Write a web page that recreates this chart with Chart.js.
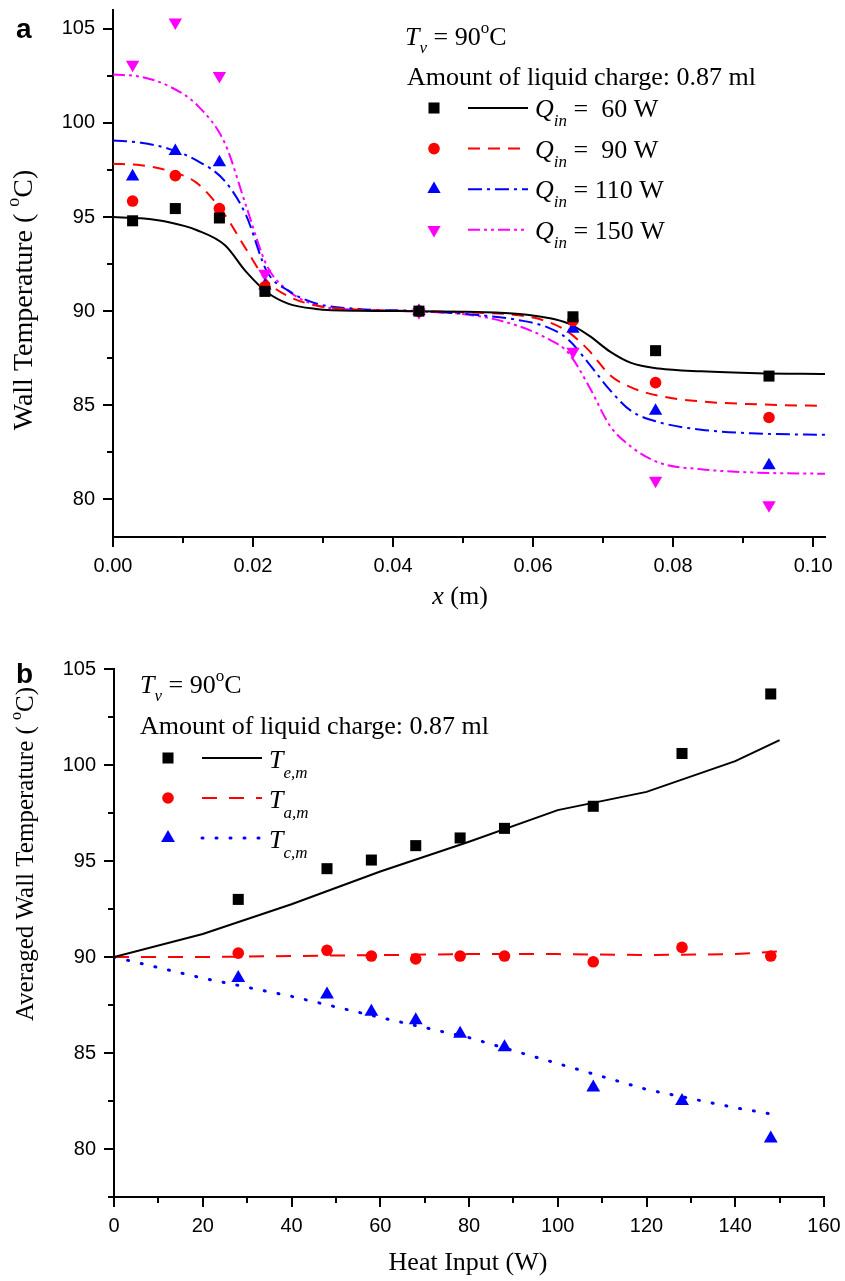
<!DOCTYPE html>
<html>
<head>
<meta charset="utf-8">
<script src="https://cdn.jsdelivr.net/npm/chart.js@4.4.0/dist/chart.umd.min.js"></script>
<style>
  body { margin: 0; background: #fff; }
  canvas { position: absolute; left: 0; }
  #chartA { top: 0; }
  #chartB { top: 640px; }
</style>
</head>
<body>
<canvas id="chartA" width="845" height="630"></canvas>
<canvas id="chartB" width="845" height="641"></canvas>
<script>
// ---- panel a: wall temperature along the pipe ----
const posX = [0.0028, 0.0089, 0.0152, 0.0217, 0.0437, 0.0657, 0.0775, 0.0937];
const q60 = [94.8, 95.45, 94.95, 91.05, 90.0, 89.7, 87.9, 86.55];
const q90 = [95.85, 97.2, 95.45, 91.3, 90.0, 89.5, 86.2, 84.35];
const q110 = [97.15, 98.5, 97.9, 91.35, 90.0, 89.05, 84.7, 81.8];
const q150 = [103.1, 105.35, 102.5, 92.0, 89.95, 87.85, 81.0, 79.7];

// model curves
const fitX = [0, 0.004, 0.008, 0.012, 0.016, 0.019, 0.022, 0.025, 0.029, 0.035, 0.044,
  0.052, 0.058, 0.062, 0.065, 0.068, 0.071, 0.074, 0.078, 0.084, 0.092, 0.1017];
const fit60 = [95.0, 94.93, 94.72, 94.3, 93.5, 92.1, 91.0, 90.4, 90.12, 90.02, 90.0,
  89.95, 89.85, 89.65, 89.35, 88.7, 87.85, 87.25, 86.95, 86.8, 86.7, 86.66];
const fit90 = [97.83, 97.75, 97.45, 96.8, 95.1, 93.3, 91.6, 90.8, 90.3, 90.08, 90.0,
  89.92, 89.78, 89.45, 88.9, 87.9, 86.6, 85.95, 85.5, 85.2, 85.05, 84.96];
const fit110 = [99.07, 98.95, 98.62, 98.0, 96.9, 95.1, 92.1, 91.1, 90.41, 90.12, 90.0,
  89.8, 89.52, 89.15, 88.5, 87.2, 85.8, 84.7, 84.1, 83.7, 83.5, 83.43];
const fit150 = [102.57, 102.45, 101.95, 100.95, 98.9, 95.6, 92.4, 91.1, 90.32, 90.08, 89.98,
  89.75, 89.2, 88.55, 87.8, 86.0, 83.9, 82.8, 81.95, 81.6, 81.42, 81.36];
const qLabels = ['=  60 W', '=  90 W', '= 110 W', '= 150 W'];

// ---- panel b: averaged wall temperature vs heat input ----
const heatX = [28, 48, 58, 68, 78, 88, 108, 128, 148];
const teM = [93.0, 94.6, 95.05, 95.8, 96.2, 96.7, 97.85, 100.6, 103.7];
const taM = [90.2, 90.35, 90.05, 89.9, 90.05, 90.05, 89.75, 90.5, 90.05];
const tcM = [88.9, 88.05, 87.15, 86.7, 86.0, 85.3, 83.2, 82.5, 80.55];
const lineX = [0, 20, 40, 60, 80, 100, 120, 140, 150];
const teLine = [90.0, 91.2, 92.75, 94.45, 96.0, 97.65, 98.6, 100.2, 101.3];
const taLine = [90.0, 90.0, 90.05, 90.1, 90.15, 90.15, 90.1, 90.15, 90.3];
const tcLine = [90.0, 88.9, 87.95, 86.85, 85.8, 84.45, 83.1, 82.15, 81.75];
const tSubs = ['e,m', 'a,m', 'c,m'];

const SERIF = '"Liberation Serif", "Times New Roman", serif';
const SANS = '"Liberation Sans", Arial, sans-serif';

function pairs(xs, ys) {
  return xs.map((x, i) => ({ x: x, y: ys[i] }));
}

// draw a run of text pieces (for sub/superscripts)
function richWidth(ctx, parts) {
  let w = 0;
  parts.forEach((p) => {
    ctx.font = p.font;
    w += ctx.measureText(p.text).width;
  });
  return w;
}
function drawRich(ctx, parts, x, y) {
  parts.forEach((p) => {
    ctx.font = p.font;
    ctx.fillText(p.text, x, y + (p.dy || 0));
    x += ctx.measureText(p.text).width;
  });
}

function drawMarker(ctx, ds, x, y) {
  Chart.helpers.drawPoint(ctx, {
    pointStyle: ds.pointStyle,
    radius: ds.pointRadius,
    rotation: ds.rotation || 0,
    borderWidth: 0,
  }, x, y);
}

// ticks (major + minor), titles, notes and legend; cfg kept out of chart options
function makeDecor(o) {
  return {
    id: 'decor',
    afterDraw(chart) {
      const ctx = chart.ctx;
      const xs = chart.scales.x;
      const ys = chart.scales.y;
      ctx.save();
      ctx.strokeStyle = '#000';
      ctx.lineWidth = 2;
      ctx.beginPath();
      xs.ticks.forEach((t) => {
        const px = Math.round(xs.getPixelForValue(t.value));
        const len = o.xMajor(t.value) ? 10 : 6;
        ctx.moveTo(px, xs.top);
        ctx.lineTo(px, xs.top + len);
      });
      ys.ticks.forEach((t) => {
        const py = Math.round(ys.getPixelForValue(t.value));
        const len = o.yMajor(t.value) ? 10 : 6;
        ctx.moveTo(ys.right, py);
        ctx.lineTo(ys.right - len, py);
      });
      ctx.stroke();

      ctx.fillStyle = '#000';
      ctx.textBaseline = 'alphabetic';
      ctx.textAlign = 'left';
      // panel letter
      ctx.font = 'bold 28px ' + SANS;
      ctx.fillText(o.letter, o.letterPos[0], o.letterPos[1]);

      // x title
      const xw = richWidth(ctx, o.xTitle);
      drawRich(ctx, o.xTitle, o.xTitlePos[0] - xw / 2, o.xTitlePos[1]);
      // y title, rotated
      ctx.save();
      ctx.translate(o.yTitlePos[0], o.yTitlePos[1]);
      ctx.rotate(-Math.PI / 2);
      const yw = richWidth(ctx, o.yTitle);
      drawRich(ctx, o.yTitle, -yw / 2, 0);
      ctx.restore();

      // notes
      drawRich(ctx, o.note1, o.notePos[0], o.notePos[1]);
      ctx.font = '26px ' + SERIF;
      ctx.fillText('Amount of liquid charge: 0.87 ml', o.notePos[2], o.notePos[3]);

      // legend: marker, line sample, label
      const lg = o.legend;
      lg.rows.forEach((row, i) => {
        const cy = lg.y + i * lg.dy;
        const pts = chart.data.datasets[row.pts];
        const fit = chart.data.datasets[row.fit];
        ctx.fillStyle = pts.backgroundColor;
        drawMarker(ctx, pts, lg.markX, cy);
        ctx.strokeStyle = fit.borderColor;
        ctx.lineWidth = fit.borderWidth;
        ctx.lineCap = fit.borderCapStyle || 'butt';
        ctx.setLineDash(fit.borderDash || []);
        ctx.beginPath();
        ctx.moveTo(lg.lineX0, cy);
        ctx.lineTo(lg.lineX1, cy);
        ctx.stroke();
        ctx.setLineDash([]);
        ctx.fillStyle = '#000';
        drawRich(ctx, row.parts, lg.textX, cy + lg.textDy);
      });
      ctx.restore();
    },
  };
}

function baseScales(xOpt, yOpt, yWidth, xHeight) {
  const common = {
    type: 'linear',
    grid: { display: false, drawTicks: false },
    border: { display: true, color: '#000', width: 2 },
  };
  return {
    x: Object.assign({}, common, xOpt, {
      afterFit(scale) {
        scale.height = xHeight;
        scale.paddingLeft = 0;
        scale.paddingRight = 0;
      },
    }),
    y: Object.assign({}, common, yOpt, {
      afterFit(scale) {
        scale.width = yWidth;
        scale.paddingTop = 0;
        scale.paddingBottom = 0;
      },
    }),
  };
}

const tickFont = { family: SANS, size: 20 };
const it = (s) => 'italic ' + s + 'px ' + SERIF;
const up = (s) => s + 'px ' + SERIF;

// ---------------- chart a ----------------
const qColors = ['#000000', '#ff0000', '#0000ff', '#ff00ff'];
const qPoints = [q60, q90, q110, q150];
const qFits = [fit60, fit90, fit110, fit150];
const qStyles = ['rect', 'circle', 'triangle', 'triangle'];
const qRadius = [7.8, 5.8, 7.7, 7.7];
const qRotation = [0, 0, 0, 180];
const qDash = [[], [12, 8], [14, 5, 3, 5], [12, 4, 3, 4, 3, 4]];

const dsA = [];
qPoints.forEach((vals, i) => {
  dsA.push({
    type: 'scatter',
    data: pairs(posX, vals),
    pointStyle: qStyles[i],
    pointRadius: qRadius[i],
    rotation: qRotation[i],
    backgroundColor: qColors[i],
    borderWidth: 0,
    showLine: false,
    order: 1,
  });
});
qFits.forEach((vals, i) => {
  dsA.push({
    type: 'line',
    data: pairs(fitX, vals),
    borderColor: qColors[i],
    borderWidth: 2,
    borderDash: qDash[i],
    pointRadius: 0,
    cubicInterpolationMode: 'monotone',
    fill: false,
    order: 2,
  });
});

const decorA = makeDecor({
  letter: 'a',
  letterPos: [16, 38],
  xMajor: (v) => Math.round(v * 100) % 2 === 0,
  yMajor: (v) => v % 5 === 0,
  xTitle: [{ text: 'x', font: it(26) }, { text: ' (m)', font: up(26) }],
  xTitlePos: [460, 604],
  yTitle: [
    { text: 'Wall Temperature ( ', font: up(28) },
    { text: 'o', font: up(18), dy: -13 },
    { text: 'C)', font: up(28) },
  ],
  yTitlePos: [32, 300],
  note1: [
    { text: 'T', font: it(26) },
    { text: 'v', font: it(17), dy: 8 },
    { text: ' = 90', font: up(26) },
    { text: 'o', font: up(17), dy: -12 },
    { text: 'C', font: up(26) },
  ],
  notePos: [405, 45, 407, 85],
  legend: {
    y: 108, dy: 40.6, markX: 434, lineX0: 468, lineX1: 528, textX: 535, textDy: 9,
    rows: qLabels.map((lab, i) => ({
      pts: i, fit: 4 + i,
      parts: [
        { text: 'Q', font: it(26) },
        { text: 'in', font: it(17), dy: 9 },
        { text: ' ' + lab, font: up(26) },
      ],
    })),
  },
});

new Chart(document.getElementById('chartA'), {
  type: 'scatter',
  data: { datasets: dsA },
  options: {
    responsive: false,
    animation: false,
    layout: { padding: { left: 0, right: 20, top: 10, bottom: 0 } },
    scales: baseScales(
      {
        min: 0, max: 0.1017,
        ticks: {
          stepSize: 0.01, includeBounds: false, autoSkip: false, maxRotation: 0,
          color: '#000', font: tickFont, padding: 17,
          callback: (v) => (Math.round(v * 100) % 2 === 0 ? v.toFixed(2) : ''),
        },
      },
      {
        min: 78, max: 106,
        ticks: {
          stepSize: 2.5, includeBounds: false, autoSkip: false,
          color: '#000', font: tickFont, padding: 18,
          callback: (v) => (v % 5 === 0 ? String(v) : ''),
        },
      },
      113, 93
    ),
    plugins: { legend: { display: false }, tooltip: { enabled: false } },
  },
  plugins: [decorA],
});

// ---------------- chart b ----------------
const tColors = ['#000000', '#ff0000', '#0000ff'];
const tPoints = [teM, taM, tcM];
const tLines = [teLine, taLine, tcLine];
const tStyles = ['rect', 'circle', 'triangle'];
const tRadius = [7.8, 5.8, 8];
const tDash = [[], [15, 12], [1, 13]];

const dsB = [];
tPoints.forEach((vals, i) => {
  dsB.push({
    type: 'scatter',
    data: pairs(heatX, vals),
    pointStyle: tStyles[i],
    pointRadius: tRadius[i],
    backgroundColor: tColors[i],
    borderWidth: 0,
    showLine: false,
    order: 1,
  });
});
tLines.forEach((vals, i) => {
  dsB.push({
    type: 'line',
    data: pairs(lineX, vals),
    borderColor: tColors[i],
    borderWidth: i === 2 ? 3 : 2,
    borderDash: tDash[i],
    borderCapStyle: i === 2 ? 'round' : 'butt',
    pointRadius: 0,
    tension: 0,
    fill: false,
    order: 2,
  });
});

const decorB = makeDecor({
  letter: 'b',
  letterPos: [16, 43],
  xMajor: (v) => v % 20 === 0,
  yMajor: (v) => v % 5 === 0,
  xTitle: [{ text: 'Heat Input (W)', font: up(26) }],
  xTitlePos: [468, 630],
  yTitle: [
    { text: 'Averaged Wall Temperature ( ', font: up(25) },
    { text: 'o', font: up(16), dy: -12 },
    { text: 'C)', font: up(25) },
  ],
  yTitlePos: [33, 214],
  note1: [
    { text: 'T', font: it(26) },
    { text: 'v', font: it(17), dy: 8 },
    { text: ' = 90', font: up(26) },
    { text: 'o', font: up(17), dy: -12 },
    { text: 'C', font: up(26) },
  ],
  notePos: [140, 53, 140, 94],
  legend: {
    y: 118, dy: 40, markX: 168, lineX0: 202, lineX1: 262, textX: 269, textDy: 10,
    rows: tSubs.map((sub, i) => ({
      pts: i, fit: 3 + i,
      parts: [
        { text: 'T', font: it(26) },
        { text: sub, font: it(17), dy: 10 },
      ],
    })),
  },
});

new Chart(document.getElementById('chartB'), {
  type: 'scatter',
  data: { datasets: dsB },
  options: {
    responsive: false,
    animation: false,
    layout: { padding: { left: 0, right: 21, top: 29, bottom: 0 } },
    scales: baseScales(
      {
        min: 0, max: 160,
        ticks: {
          stepSize: 10, autoSkip: false, maxRotation: 0,
          color: '#000', font: tickFont, padding: 17,
          callback: (v) => (v % 20 === 0 ? String(v) : ''),
        },
      },
      {
        min: 77.5, max: 105,
        ticks: {
          stepSize: 2.5, autoSkip: false,
          color: '#000', font: tickFont, padding: 18,
          callback: (v) => (v % 5 === 0 ? String(v) : ''),
        },
      },
      114, 84
    ),
    plugins: { legend: { display: false }, tooltip: { enabled: false } },
  },
  plugins: [decorB],
});
</script>
</body>
</html>
